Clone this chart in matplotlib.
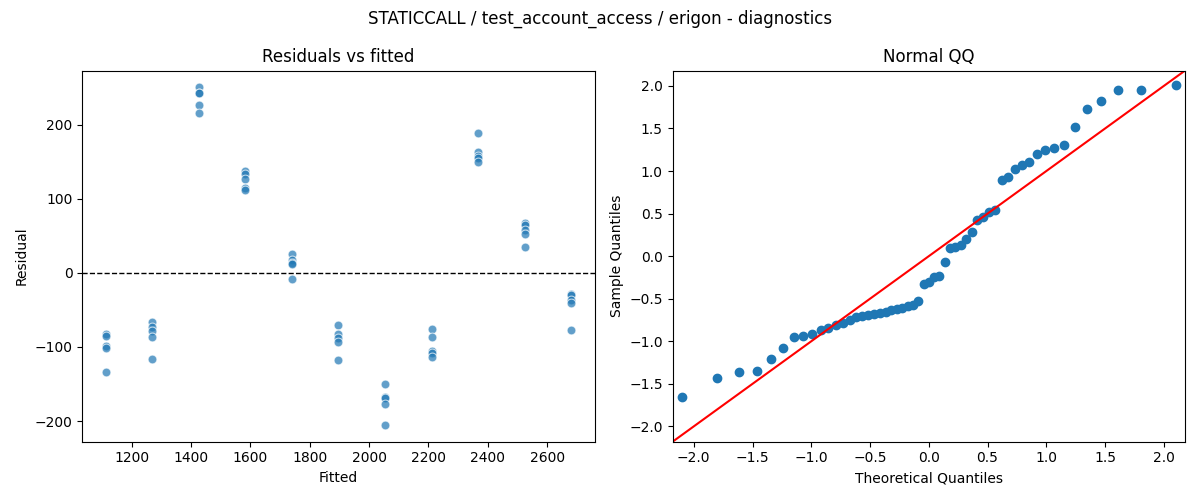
import numpy as np
import matplotlib
matplotlib.use("Agg")
from matplotlib import pyplot as plt
from statistics import NormalDist

# fitted value of each group (5 runs per group)
group_fitted = [1112, 1269, 1426, 1583, 1740, 1897, 2054, 2211, 2368, 2525, 2682]

# residuals per group
group_residuals = [
    [-83, -85, -98, -101, -134],
    [-66, -73, -78, -86, -116],
    [250, 243, 242, 226, 215],
    [138, 133, 127, 115, 112],
    [25, 17, 13, 12, -8],
    [-71, -82, -88, -93, -118],
    [-150, -167, -169, -177, -205],
    [-76, -87, -105, -108, -114],
    [188, 163, 158, 155, 149],
    [67, 64, 58, 53, 35],
    [-29, -30, -37, -40, -77],
]

title = "STATICCALL / test_account_access / erigon - diagnostics"


def main():
    fitted = np.repeat(group_fitted, [len(g) for g in group_residuals])
    resid = np.concatenate(group_residuals).astype(float)

    fig, (ax1, ax2) = plt.subplots(1, 2, figsize=(12, 5), dpi=100)

    # residuals vs fitted
    ax1.scatter(fitted, resid, s=40, color='C0', alpha=0.7,
                edgecolor='white', linewidth=0.75)
    ax1.axhline(0, color='black', linestyle='--', linewidth=1)
    ax1.set_title('Residuals vs fitted')
    ax1.set_xlabel('Fitted')
    ax1.set_ylabel('Residual')

    # normal QQ of standardized residuals
    n = len(resid)
    z = (resid - resid.mean()) / resid.std()
    sample = np.sort(z)
    theo = np.array([NormalDist().inv_cdf(i / (n + 1)) for i in range(1, n + 1)])
    ax2.plot(theo, sample, 'o', color='C0', markersize=6)
    ax2.axline((0, 0), slope=1, color='red')
    ax2.set_xlim(-2.18, 2.18)
    ax2.set_ylim(-2.18, 2.18)
    ax2.set_title('Normal QQ')
    ax2.set_xlabel('Theoretical Quantiles')
    ax2.set_ylabel('Sample Quantiles')

    fig.suptitle(title)
    fig.tight_layout()
    fig.savefig('out.png')


if __name__ == '__main__':
    main()
